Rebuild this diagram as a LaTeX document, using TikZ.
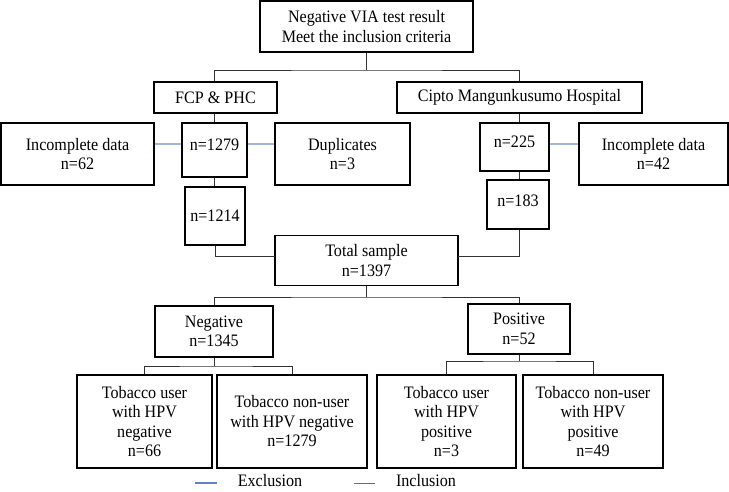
\documentclass[tikz,border=0pt]{standalone}
\usepackage{fontspec}
\setmainfont{Liberation Serif}[FakeStretch=0.92]
\definecolor{exclblue}{RGB}{160,180,220}
\definecolor{legblue}{RGB}{95,130,200}
\definecolor{incgray}{RGB}{50,50,50}
\definecolor{leggray}{RGB}{110,110,110}
\begin{document}
\begin{tikzpicture}[x=1pt,y=-1pt,
  box/.style={draw=black, line width=1.1pt, inner sep=0pt, align=center,
    font=\fontsize{17.5}{19.5}\selectfont},
  incl/.style={draw=incgray, line width=1pt},
  excl/.style={draw=exclblue, line width=1.2pt},
  legtext/.style={inner sep=0pt, font=\fontsize{17.5}{19.5}\selectfont}]
\useasboundingbox (0,0) rectangle (729,491);
% boxes
\node[box, minimum width=213pt, minimum height=51pt] (top) at (366.5,26.5) {Negative VIA test result\\Meet the inclusion criteria};
\node[box, minimum width=123pt, minimum height=31pt] (fcp) at (215.5,97.5) {FCP \& PHC};
\node[box, minimum width=245pt, minimum height=31pt] (cipto) at (519.5,97.5) {Cipto Mangunkusumo Hospital};
\node[box, minimum width=153pt, minimum height=62pt] (incl) at (77.5,154) {Incomplete data\\n=62};
\node[box, minimum width=65pt, minimum height=54pt, text depth=10pt] (n1279) at (214.5,150) {n=1279};
\node[box, minimum width=135pt, minimum height=62pt] (dup) at (342.5,154) {Duplicates\\n=3};
\node[box, minimum width=60pt, minimum height=58pt] (n1214) at (215,216) {n=1214};
\node[box, minimum width=69pt, minimum height=48pt, text depth=10pt] (n225) at (514.5,147) {n=225};
\node[box, minimum width=149pt, minimum height=62pt] (incr) at (653.5,154) {Incomplete data\\n=42};
\node[box, minimum width=62pt, minimum height=49pt, text depth=8pt] (n183) at (518,204.5) {n=183};
\node[box, minimum width=183pt, minimum height=50pt] (total) at (366.5,260.5) {Total sample\\n=1397};
\node[box, minimum width=118pt, minimum height=51pt] (neg) at (214,331.5) {Negative\\n=1345};
\node[box, minimum width=102pt, minimum height=50pt] (pos) at (519,329) {Positive\\n=52};
\node[box, minimum width=135pt, minimum height=93pt] (t1) at (144.5,421.5) {Tobacco user\\with HPV\\negative\\n=66};
\node[box, minimum width=150pt, minimum height=93pt] (t2) at (292,421.5) {Tobacco non-user\\with HPV negative\\n=1279};
\node[box, minimum width=139pt, minimum height=93pt] (t3) at (446.5,421.5) {Tobacco user\\with HPV\\positive\\n=3};
\node[box, minimum width=140pt, minimum height=93pt] (t4) at (593,421.5) {Tobacco non-user\\with HPV\\positive\\n=49};
% junction coordinates
\coordinate (j1) at (366.5,70);
\coordinate (jl) at (275,256);
\coordinate (jr) at (458,256);
\coordinate (j2) at (366.5,297);
\coordinate (j3) at (214,366);
\coordinate (j4) at (519,361);
% inclusion connectors
\draw[incl] (top.south) -- (j1);
\draw[incl] (fcp.north -| 214.5,0) |- (j1) -| (cipto.north);
\draw[incl] (fcp.south -| n1279.north) -- (n1279.north);
\draw[incl] (n1279.south) -- (n1279.south |- n1214.north);
\draw[incl] (n1214.south) |- (jl);
\draw[incl] (cipto.south) -- (cipto.south |- n225.north);
\draw[incl] (n225.south -| cipto.south) -- (cipto.south |- n183.north);
\draw[incl] (n183.south -| cipto.south) |- (jr);
\draw[incl] (total.south) -- (j2);
\draw[incl] (neg.north) |- (j2) -| (pos.north);
\draw[incl] (neg.south) -- (j3);
\draw[incl] (t1.north) |- (j3) -| (t2.north);
\draw[incl] (pos.south) -- (j4);
\draw[incl] (t3.north) |- (j4) -| (t4.north);
% exclusion connectors
\draw[excl] ([yshift=10pt]incl.east) -- ([yshift=10pt]incl.east -| n1279.west);
\draw[excl] ([yshift=10pt]dup.west) -- ([yshift=10pt]dup.west -| n1279.east);
\draw[excl] ([yshift=10pt]incr.west) -- ([yshift=10pt]incr.west -| n225.east);
% legend
\coordinate (la) at (195,483);
\coordinate (lb) at (217,483);
\coordinate (lc) at (354,483);
\coordinate (ld) at (375,483);
\draw[draw=legblue, line width=1.4pt] (la) -- (lb);
\draw[draw=leggray, line width=1pt] (lc) -- (ld);
\node[legtext] (lexcl) at (270,480.5) {Exclusion};
\node[legtext] (lincl) at (426,480.5) {Inclusion};
\end{tikzpicture}
\end{document}
